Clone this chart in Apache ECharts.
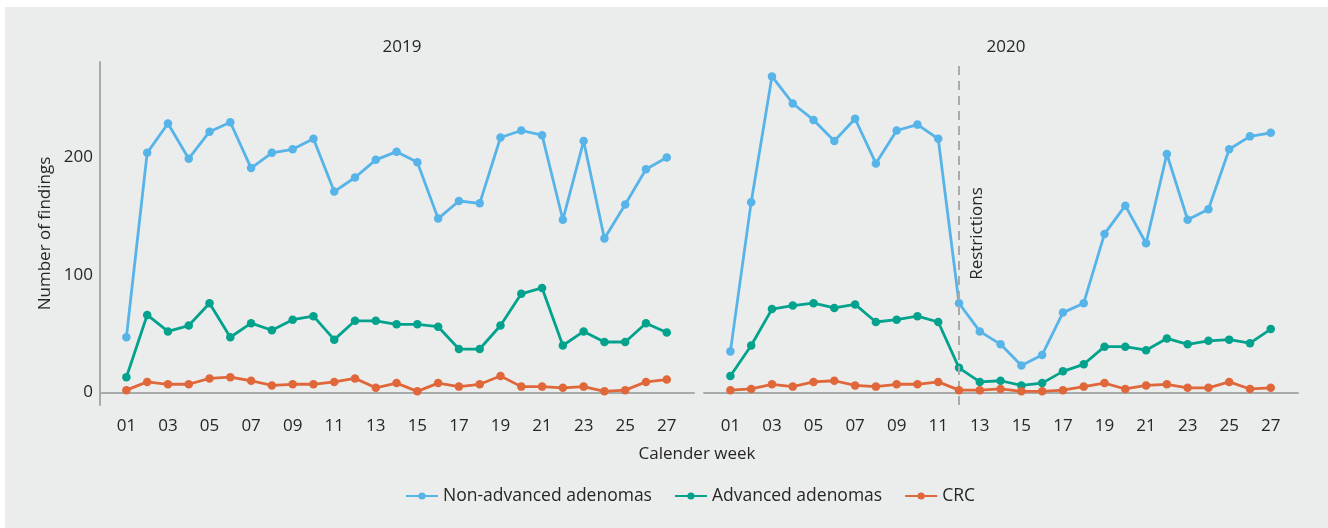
<!DOCTYPE html>
<html>
<head>
<meta charset="utf-8">
<script src="https://cdn.jsdelivr.net/npm/echarts@6/dist/echarts.min.js"></script>
<style>
  html, body { margin: 0; padding: 0; background: #ffffff; }
  #chart { width: 1328px; height: 528px; }
</style>
</head>
<body>
<div id="chart"></div>
<script>
// ---- Data ----
const weeks = [1,2,3,4,5,6,7,8,9,10,11,12,13,14,15,16,17,18,19,20,21,22,23,24,25,26,27];
const weekTicks = [1,3,5,7,9,11,13,15,17,19,21,23,25,27];
const yTicks = [0, 100, 200];
const restrictionWeek = 12;
const panelTitles = ['2019', '2020'];
const seriesNames = ['Non-advanced adenomas', 'Advanced adenomas', 'CRC'];

const nonAdv2019 = [47,204,229,199,222,230,191,204,207,216,171,183,198,205,196,148,163,161,217,223,219,147,214,131,160,190,200];
const adv2019    = [13,66,52,57,76,47,59,53,62,65,45,61,61,58,58,56,37,37,57,84,89,40,52,43,43,59,51];
const crc2019    = [2,9,7,7,12,13,10,6,7,7,9,12,4,8,1,8,5,7,14,5,5,4,5,1,2,9,11];

const nonAdv2020 = [35,162,269,246,232,214,233,195,223,228,216,76,52,41,23,32,68,76,135,159,127,203,147,156,207,218,221];
const adv2020    = [14,40,71,74,76,72,75,60,62,65,60,21,9,10,6,8,18,24,39,39,36,46,41,44,45,42,54];
const crc2020    = [2,3,7,5,9,10,6,5,7,7,9,2,2,3,1,1,2,5,8,3,6,7,4,4,9,3,4];

// ---- Style ----
const colors = ['#56b4e9', '#02a28d', '#e0673a'];
const FONT = 'Open Sans';
const TXT = '#262626';
const AXIS = '#a9aaaa';

const pair = arr => weeks.map((w, i) => [w, arr[i]]);
const pad2 = v => (v < 10 ? '0' : '') + v;

function xAxisFor(gi) {
  return {
    gridIndex: gi, type: 'value', min: -0.27, max: 28.31,
    axisLine: { show: true, lineStyle: { color: AXIS, width: 2 } },
    axisTick: { show: false },
    splitLine: { show: false },
    axisLabel: {
      customValues: weekTicks, formatter: v => pad2(v),
      color: TXT, fontFamily: FONT, fontSize: 17, margin: 13
    }
  };
}
function yAxisFor(gi, showLine) {
  return {
    gridIndex: gi, type: 'value', min: -10.64, max: 281.3,
    axisLine: { show: showLine, onZero: false, lineStyle: { color: AXIS, width: 2 } },
    axisTick: { show: false },
    splitLine: { show: false },
    axisLabel: {
      show: showLine, customValues: yTicks,
      color: TXT, fontFamily: FONT, fontSize: 17, margin: 7
    },
    name: showLine ? 'Number of findings' : '',
    nameLocation: 'middle', nameGap: 46,
    nameTextStyle: { color: TXT, fontFamily: FONT, fontSize: 17 }
  };
}
function lineSeries(name, data, ci, gi, extra) {
  return Object.assign({
    name: name, type: 'line', xAxisIndex: gi, yAxisIndex: gi,
    data: pair(data), symbol: 'circle', symbolSize: 8.5,
    lineStyle: { width: 2.8, color: colors[ci] },
    itemStyle: { color: colors[ci] },
    z: 3 + ci
  }, extra || {});
}

const chart = echarts.init(document.getElementById('chart'), null, { renderer: 'canvas' });
chart.setOption({
  animation: false,
  backgroundColor: '#ebecec',
  textStyle: { fontFamily: FONT },
  graphic: [
    { type: 'rect', shape: { x: 0, y: 0, width: 1328, height: 7 }, style: { fill: '#ffffff' }, z: -10, silent: true },
    { type: 'rect', shape: { x: 0, y: 0, width: 5, height: 528 }, style: { fill: '#ffffff' }, z: -10, silent: true }
  ],
  title: [
    { text: panelTitles[0], left: 397, top: 34, textAlign: 'center',
      textStyle: { color: TXT, fontFamily: FONT, fontSize: 17, fontWeight: 'normal' } },
    { text: panelTitles[1], left: 1001, top: 34, textAlign: 'center',
      textStyle: { color: TXT, fontFamily: FONT, fontSize: 17, fontWeight: 'normal' } },
    { text: 'Calender week', left: 692, top: 441, textAlign: 'center',
      textStyle: { color: TXT, fontFamily: FONT, fontSize: 17, fontWeight: 'normal' } }
  ],
  legend: {
    data: seriesNames, left: 400, top: 482, itemWidth: 32, itemHeight: 9, itemGap: 22,
    textStyle: { color: TXT, fontFamily: FONT, fontSize: 17.5 }
  },
  grid: [
    { left: 100, top: 62, width: 594, height: 343 },
    { left: 704, top: 62, width: 594, height: 343 }
  ],
  xAxis: [xAxisFor(0), xAxisFor(1)],
  yAxis: [yAxisFor(0, true), yAxisFor(1, false)],
  series: [
    lineSeries(seriesNames[0], nonAdv2019, 0, 0),
    lineSeries(seriesNames[1], adv2019, 1, 0),
    lineSeries(seriesNames[2], crc2019, 2, 0),
    lineSeries(seriesNames[0], nonAdv2020, 0, 1, {
      markLine: {
        silent: true, symbol: ['none', 'none'],
        lineStyle: { color: AXIS, type: [9, 6], width: 2 },
        label: {
          show: true, formatter: 'Restrictions', position: 'insideMiddleBottom', distance: 10,
          color: TXT, fontFamily: FONT, fontSize: 17
        },
        data: [{ xAxis: restrictionWeek }]
      }
    }),
    lineSeries(seriesNames[1], adv2020, 1, 1),
    lineSeries(seriesNames[2], crc2020, 2, 1)
  ]
});
</script>
</body>
</html>
